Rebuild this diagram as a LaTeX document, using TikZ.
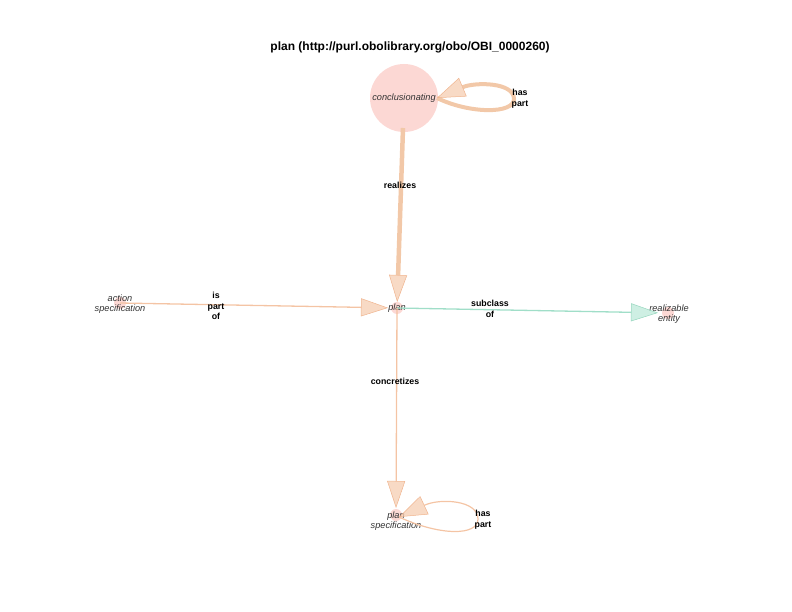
\documentclass[tikz,border=0pt]{standalone}
\usepackage{fontspec}
\setmainfont{Liberation Sans}
\usetikzlibrary{arrows.meta}
\definecolor{nodefill}{RGB}{252,216,212}
\definecolor{orline}{RGB}{244,196,164}
\definecolor{orthick}{RGB}{242,200,168}
\definecolor{orhead}{RGB}{246,206,178}
\definecolor{orheadb}{RGB}{240,180,142}
\definecolor{grline}{RGB}{160,222,200}
\definecolor{grhead}{RGB}{190,234,218}
\definecolor{grheadb}{RGB}{150,214,190}
\tikzset{
  x=1pt,y=-1pt,
  dot/.style={circle,fill=nodefill,minimum size=12pt,inner sep=0pt},
  nlabel/.style={font=\itshape\fontsize{9.2}{10.5}\selectfont,align=center,text=black!80},
  elabel/.style={font=\bfseries\fontsize{8.8}{10.6}\selectfont,align=center},
  ortip/.style={-{Triangle[length=27pt,width=18pt,fill=orhead,color=orheadb,line width=0.5pt]}},
  orbigtip/.style={-{Triangle[length=28pt,width=20pt,fill=orhead,color=orheadb,line width=0.5pt]}},
  oredge/.style={draw=orline,line width=1.3pt,ortip},
  gredge/.style={draw=grline,line width=1.3pt,-{Triangle[length=27pt,width=18pt,fill=grhead,color=grheadb,line width=0.5pt]}},
  headfade/.style={fill opacity=0.75},
}
\begin{document}
\begin{tikzpicture}
\useasboundingbox (0,0) rectangle (792,612);
\node[font=\bfseries\fontsize{12}{14}\selectfont] (title) at (410,47) {plan (http://purl.obolibrary.org/obo/OBI\_0000260)};

\node[circle,fill=nodefill,minimum size=68pt,inner sep=0pt] (cn) at (404,98) {};
\node[nlabel] (cnl) at (404,98) {conclusionating};

\node[dot] (plan) at (397,308) {};
\node[nlabel] (planl) at (397,308) {plan};

\node[dot] (act) at (120,303) {};
\node[nlabel] (actl) at (120,304) {action\\specification};

\node[dot] (real) at (668,313) {};
\node[nlabel] (reall) at (669,314) {realizable\\entity};

\node[dot] (pspec) at (396,515) {};
\node[nlabel] (pspecl) at (396,521) {plan\\specification};

\coordinate (cnE) at (437,98);
\coordinate (loopA) at (514,99);
\coordinate (psE) at (399,517);
\coordinate (loopB) at (478,519);

% realizes
\draw[draw=orthick,line width=4.5pt,ortip,headfade,shorten >=6pt] (403,128) -- (plan.center);
\node[elabel] (l1) at (400,185) {realizes};

% is part of
\draw[oredge,headfade,shorten >=9pt] (act.center) -- (plan.center);
\node[elabel] (l2) at (216,306) {is\\part\\of};

% subclass of
\draw[gredge,headfade,shorten >=10pt] (plan.center) -- (real.center);
\node[elabel] (l3) at (490,309) {subclass\\of};

% concretizes
\draw[oredge,headfade,shorten >=7pt] (plan.center) -- (pspec.center);
\node[elabel] (l4) at (395,381) {concretizes};

% self loop conclusionating
\draw[draw=orthick,line width=4pt,orbigtip,headfade]
  (cnE) .. controls (470,114) and (514,114) .. (loopA) .. controls (514,82) and (475,82) .. (cnE);
\node[elabel] (l5) at (520,99) {has\\part};

% self loop plan specification
\draw[oredge,line width=1.2pt,orbigtip,headfade]
  (psE) .. controls (440,536) and (478,536) .. (loopB) .. controls (478,500) and (440,498) .. (psE);
\node[elabel] (l6) at (483,520) {has\\part};
\end{tikzpicture}
\end{document}
